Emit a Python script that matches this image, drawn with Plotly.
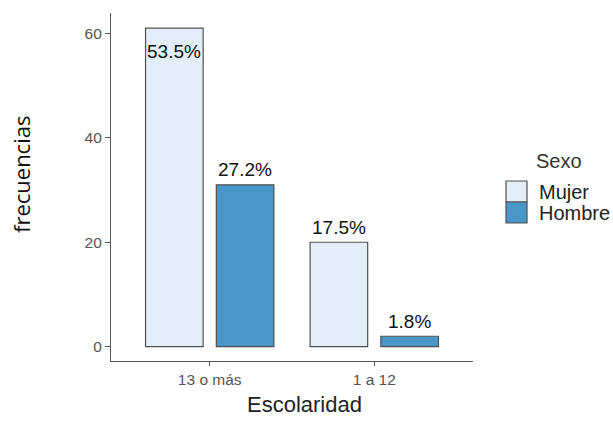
import plotly.graph_objects as go

categories = ["13 o más", "1 a 12"]
mujer = [61, 20]
hombre = [31, 2]
series_names = ["Mujer", "Hombre"]
legend_title = "Sexo"
x_title = "Escolaridad"
y_title = "frecuencias"
y_ticks = [0, 20, 40, 60]

total = sum(mujer) + sum(hombre)
colors = {"Mujer": "#e3eef9", "Hombre": "#4a96c8"}
outline = "#505050"

W, H = 613, 421
L, R, T, B = 111, 140, 13, 60
pw, ph = W - L - R, H - T - B


def xp(px):
    return (px - L) / pw


def yp(py):
    return (H - B - py) / ph


fig = go.Figure()
for name, vals in zip(series_names, [mujer, hombre]):
    fig.add_trace(go.Bar(
        x=categories, y=vals, name=name,
        marker=dict(color=colors[name], line=dict(color=outline, width=1.2)),
        showlegend=False, hoverinfo="skip",
    ))

ymin, ymax = -2.74, 63.89
offset = 0.215
for k, vals in enumerate([mujer, hombre]):
    shift = -offset if k == 0 else offset
    for i, v in enumerate(vals):
        label = f"{100 * v / total:.1f}%"
        ly = v + 2.9 if v + 5 < ymax else v - 4.4
        fig.add_annotation(x=i + shift, y=ly, xref="x", yref="y", text=label,
                           showarrow=False, yanchor="middle",
                           font=dict(family="Liberation Sans", size=19, color="#111111"))

# legend (custom, ggplot style)
fig.add_annotation(xref="paper", yref="paper", x=xp(534), y=yp(161), text=legend_title,
                   showarrow=False, xanchor="left", yanchor="middle",
                   font=dict(family="Liberation Sans", size=20, color="#333333"))
sw_top = 181
sw_h = 21
for j, name in enumerate(series_names):
    y0 = sw_top + j * sw_h
    fig.add_shape(type="rect", xref="paper", yref="paper",
                  x0=xp(506), x1=xp(527), y0=yp(y0), y1=yp(y0 + sw_h),
                  fillcolor=colors[name], line=dict(color=outline, width=1.2))
    fig.add_annotation(xref="paper", yref="paper", x=xp(537), y=yp(y0 + sw_h / 2),
                       text=name, showarrow=False, xanchor="left", yanchor="middle",
                       font=dict(family="Liberation Sans", size=20, color="#222222"))

# axis titles
fig.add_annotation(xref="paper", yref="paper", x=xp(304), y=yp(404), text=x_title,
                   showarrow=False, xanchor="center", yanchor="middle",
                   font=dict(family="Liberation Sans", size=22, color="#222222"))
fig.add_annotation(xref="paper", yref="paper", x=xp(21), y=yp(175), text=y_title,
                   showarrow=False, textangle=-90, xanchor="center", yanchor="middle",
                   font=dict(family="Open Sans", size=22, color="#111111"))

fig.update_layout(
    width=W, height=H,
    margin=dict(l=L, r=R, t=T, b=B, autoexpand=False),
    paper_bgcolor="white", plot_bgcolor="white",
    barmode="group", bargap=0.14, bargroupgap=0.186,
    showlegend=False,
)
fig.update_xaxes(type="category", range=[-0.6, 1.6], showline=True, linecolor="#555555",
                 linewidth=1.2, ticks="outside", ticklen=4, tickcolor="#555555",
                 tickwidth=1.2, showgrid=False, zeroline=False,
                 tickfont=dict(family="Liberation Sans", size=15.5, color="#555555"))
fig.update_yaxes(range=[ymin, ymax], tickvals=y_ticks, showline=True, linecolor="#555555",
                 linewidth=1.2, ticks="outside", ticklen=5, tickcolor="#555555",
                 tickwidth=1.2, showgrid=False, zeroline=False,
                 tickfont=dict(family="Liberation Sans", size=15.5, color="#555555"))

fig.write_html("out.html", config={"displayModeBar": False},
               post_script="document.body.style.margin='0';document.body.style.overflow='hidden';")
